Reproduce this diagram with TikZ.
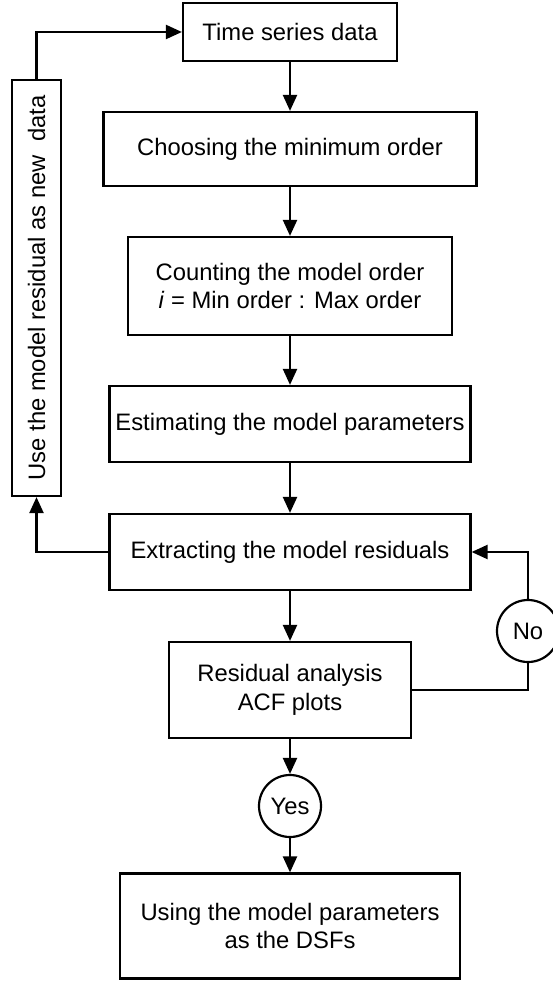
\documentclass[tikz,border=0pt]{standalone}
\usepackage{fontspec}
\usepackage{graphicx}
\setmainfont{Liberation Sans}
\usetikzlibrary{arrows.meta}
\begin{document}
\begin{tikzpicture}[x=1pt,y=-1pt,
  line width=2.2pt,
  every node/.style={font=\fontsize{23.8}{28.6}\selectfont},
  box/.style={draw, rectangle, inner sep=0pt, align=center},
  decision/.style={draw, circle, inner sep=0pt, minimum size=62pt},
  flow/.style={-{Triangle[length=16pt,width=14pt]}}]
\clip (0,0) rectangle (553,981);

% main chain of steps
\node[box, minimum width=214pt, minimum height=58pt] (ts) at (290,32) {Time series data};
\node[box, minimum width=373pt, minimum height=74pt] (choose) at (290,149) {Choosing the minimum order};
\node[box, minimum width=324pt, minimum height=98pt] (count) at (290,286)
  {Counting the model order\\\textit{i} = Min order : Max order};
\node[box, minimum width=361pt, minimum height=76pt] (est) at (290,424) {Estimating the model parameters};
\node[box, minimum width=361pt, minimum height=76pt] (extr) at (290,552) {Extracting the model residuals};
\node[box, minimum width=242pt, minimum height=96pt] (resid) at (290,690)
  {Residual analysis\\ACF plots};
\node[decision] (yes) at (290,806) {Yes};
\node[box, minimum width=340pt, minimum height=105pt] (final) at (290,926)
  {Using the model parameters\\as the DSFs};

% feedback branch on the left
\node[box, minimum width=49pt, minimum height=416pt] (left) at (36.5,288)
  {\rotatebox{90}{Use the model residual as new\ \ data}};

% rejection loop on the right
\node[decision] (no) at (528,631) {No};

% connectors
\draw[flow] (ts) -- (choose);
\draw[flow] (choose) -- (count);
\draw[flow] (count) -- (est);
\draw[flow] (est) -- (extr);
\draw[flow] (extr) -- (resid);
\draw[flow] (resid) -- (yes);
\draw[flow] (yes) -- (final);
\draw[flow] (extr.west) -| (left.south);
\draw[flow] (left.north) |- (ts.west);
\draw (resid.east) -| (no.south);
\draw[flow] (no.north) |- (extr.east);
\end{tikzpicture}
\end{document}
